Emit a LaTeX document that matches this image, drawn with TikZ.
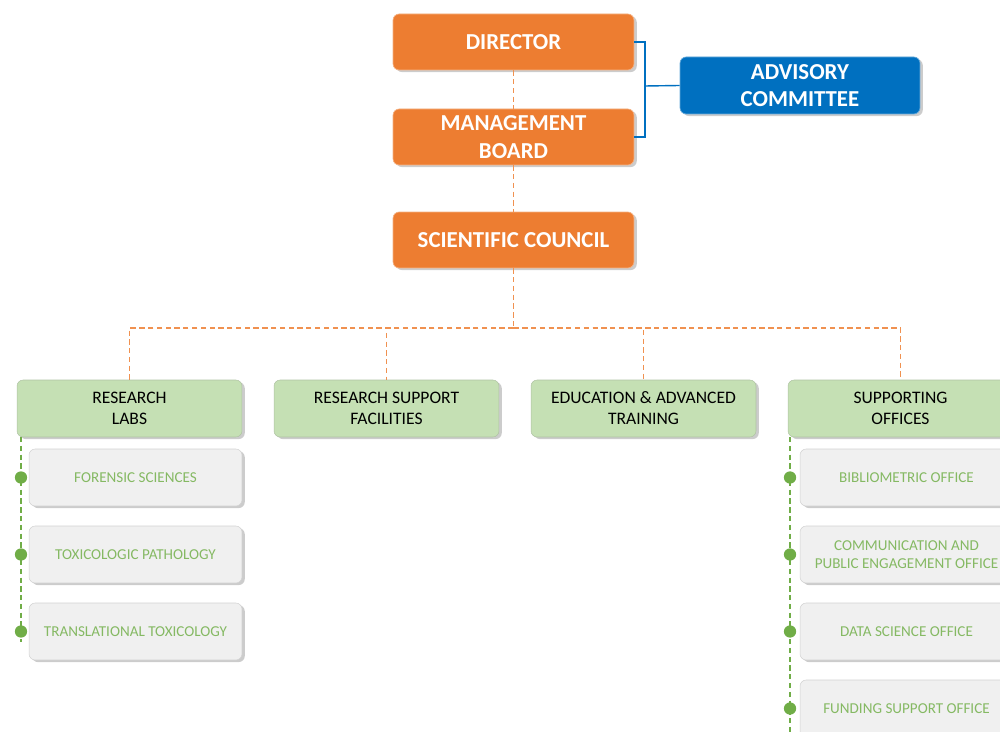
\documentclass[tikz,border=0pt]{standalone}
\usepackage{fontspec}
\setmainfont{Carlito}
\usepackage{tikz}
\usetikzlibrary{shadows}

\definecolor{orgbox}{HTML}{ED7D31}
\definecolor{advbox}{HTML}{0070C0}
\definecolor{unitbox}{HTML}{C5E0B4}
\definecolor{subbox}{HTML}{F0F0F0}
\definecolor{subtext}{HTML}{70AD47}

\begin{document}
\begin{tikzpicture}[
	x = 0.02cm, y = -0.02cm,
	boss/.style={rectangle, rounded corners=3.5pt, fill=orgbox, draw=orgbox!60!white, line width=0.4pt,
		minimum width=4.82cm, minimum height=1.12cm, align=center, text=white,
		font=\fontsize{13}{15.5}\selectfont\bfseries,
		drop shadow={shadow xshift=1.6pt, shadow yshift=-1.2pt, opacity=0.4}},
	advisor/.style={boss, fill=advbox, draw=advbox!60!white, minimum width=4.8cm, minimum height=1.14cm},
	unit/.style={rectangle, rounded corners=3.5pt, fill=unitbox, draw=unitbox!70!gray, line width=0.3pt,
		minimum width=4.5cm, minimum height=1.14cm, align=center, text=black,
		font=\fontsize{10}{12}\selectfont,
		drop shadow={shadow xshift=1.6pt, shadow yshift=-1.2pt, opacity=0.4}},
	office/.style={unit, fill=subbox, draw=gray!35, minimum width=4.26cm, text=subtext!85!white,
		font=\fontsize{8.6}{10.6}\selectfont},
	orgline/.style={orgbox!85!white, line width=0.8pt, dash pattern=on 3pt off 2pt},
	subline/.style={subtext, line width=0.8pt, dash pattern=on 3pt off 2pt},
	advline/.style={advbox, line width=0.8pt},
	dot/.style={circle, fill=subtext, minimum size=7pt, inner sep=0pt},
	]
	\clip (0,0) rectangle (1000,732);

	% top of the hierarchy
	\node (dir) [boss] at (513.5,42) {DIRECTOR};
	\node (mb) [boss] at (513.5,137) {MANAGEMENT\\BOARD};
	\node (sc) [boss] at (513.5,240) {SCIENTIFIC COUNCIL};
	\node (adv) [advisor] at (800,85.5) {ADVISORY\\COMMITTEE};

	\draw[orgline] (dir) -- (mb);
	\draw[orgline] (mb) -- (sc);
	\coordinate (brk) at (645,86);
	\draw[advline] (dir.east) -| (brk) |- (mb.east);
	\draw[advline] (brk) -- (adv.west);

	% the four units
	\node (labs) [unit] at (129.5,408.5) {RESEARCH\\LABS};
	\node (rsf) [unit] at (386.5,408.5) {RESEARCH SUPPORT\\FACILITIES};
	\node (edu) [unit] at (643.5,408.5) {EDUCATION \& ADVANCED\\TRAINING};
	\node (sup) [unit] at (900.5,408.5) {SUPPORTING\\OFFICES};

	\coordinate (bus) at (513.5,328);
	\draw[orgline] (sc) -- (bus);
	\foreach \u in {labs, rsf, edu, sup}
		\draw[orgline] (bus) -| (\u.north);

	% labs
	\node (fs) [office] at (135.5,477.5) {FORENSIC SCIENCES};
	\node (tp) [office] at (135.5,554.5) {TOXICOLOGIC PATHOLOGY};
	\node (tt) [office] at (135.5,631.5) {TRANSLATIONAL TOXICOLOGY};
	\coordinate (labstop) at (21,437);
	\coordinate (labsend) at (21,642);
	\draw[subline] (labstop) -- (labsend);
	\foreach \o in {fs, tp, tt}
		\node [dot] at (labstop |- \o.west) {};

	% offices
	\node (bib) [office] at (906.5,477.5) {BIBLIOMETRIC OFFICE};
	\node (com) [office] at (906.5,554.5) {COMMUNICATION AND\\PUBLIC ENGAGEMENT OFFICE};
	\node (dsc) [office] at (906.5,631.5) {DATA SCIENCE OFFICE};
	\node (fund) [office] at (906.5,708.5) {FUNDING SUPPORT OFFICE};
	\coordinate (suptop) at (790,437);
	\coordinate (supend) at (790,732);
	\draw[subline] (suptop) -- (supend);
	\foreach \o in {bib, com, dsc, fund}
		\node [dot] at (suptop |- \o.west) {};
\end{tikzpicture}
\end{document}
